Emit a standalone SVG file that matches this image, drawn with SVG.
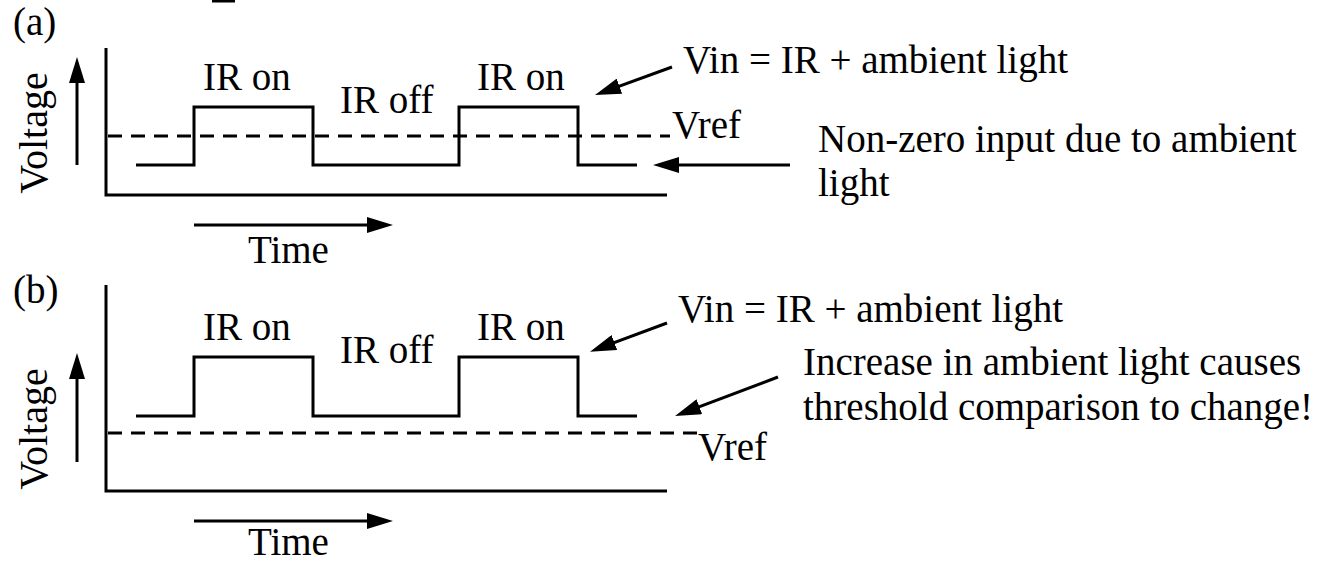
<svg xmlns="http://www.w3.org/2000/svg" width="1318" height="563" viewBox="0 0 1318 563">
  <style>
    text { font-family: "Liberation Serif", "Times New Roman", serif; font-size: 39px; fill: #000; }
    .axis { stroke: #000; stroke-width: 3; fill: none; }
    .signal { stroke: #000; stroke-width: 3; fill: none; stroke-linejoin: miter; }
    .vref { stroke: #000; stroke-width: 3; fill: none; stroke-dasharray: 14 9; }
    .arrow { stroke: #000; stroke-width: 3; fill: none; marker-end: url(#head); }
    .ylabel { font-size: 40px; }
  </style>
  <defs>
    <marker id="head" markerUnits="userSpaceOnUse" markerWidth="26" markerHeight="16" viewBox="0 0 26 16" refX="16" refY="8" orient="auto">
      <path d="M0,0 L26,8 L0,16 z" fill="#000"/>
    </marker>
  </defs>

  <rect width="1318" height="563" fill="#fff"/>
  <rect x="212" y="0" width="23" height="2.5" fill="#000"/>

  <!-- Panel (a): fixed threshold -->
  <g id="panel-a">
    <text x="13" y="35">(a)</text>
    <path class="axis" d="M106,48 V195 H667"/>
    <text class="ylabel" x="47" y="133" text-anchor="middle" transform="rotate(-90 47 133)">Voltage</text>
    <line class="vref" x1="108" y1="136" x2="670" y2="136"/>
    <path class="signal" d="M136,165 H194 V107 H313 V165 H459 V107 H578 V165 H637"/>
    <text x="203" y="90">IR on</text>
    <text x="340" y="113">IR off</text>
    <text x="477" y="90">IR on</text>
    <text x="672" y="138">Vref</text>
    <text x="248" y="263">Time</text>
    <text x="683" y="73">Vin = IR + ambient light</text>
    <text x="818" y="152">Non-zero input due to ambient</text>
    <text x="818" y="196">light</text>
  </g>

  <!-- Panel (b): ambient light shift -->
  <g id="panel-b">
    <text x="13" y="303">(b)</text>
    <path class="axis" d="M106,285 V491 H667"/>
    <text class="ylabel" x="47" y="429" text-anchor="middle" transform="rotate(-90 47 429)">Voltage</text>
    <line class="vref" x1="108" y1="433" x2="697" y2="433"/>
    <path class="signal" d="M136,416 H194 V357 H313 V416 H459 V357 H578 V416 H637"/>
    <text x="203" y="340">IR on</text>
    <text x="340" y="363">IR off</text>
    <text x="477" y="340">IR on</text>
    <text x="698" y="460">Vref</text>
    <text x="248" y="555">Time</text>
    <text x="678" y="322">Vin = IR + ambient light</text>
    <text x="803" y="375">Increase in ambient light causes</text>
    <text x="803" y="420">threshold comparison to change!</text>
  </g>

  <!-- Connectors -->
  <g id="connectors">
    <line class="arrow" x1="77" y1="165" x2="77" y2="67"/>
    <line class="arrow" x1="194" y1="225" x2="383" y2="225"/>
    <line class="arrow" x1="672" y1="67" x2="604.4" y2="91.6"/>
    <line class="arrow" x1="790" y1="165" x2="663" y2="165"/>
    <line class="arrow" x1="77" y1="462" x2="77" y2="363"/>
    <line class="arrow" x1="194" y1="521" x2="383" y2="521"/>
    <line class="arrow" x1="667" y1="323" x2="599.4" y2="348.2"/>
    <line class="arrow" x1="778" y1="377" x2="684.4" y2="412.4"/>
  </g>
</svg>
